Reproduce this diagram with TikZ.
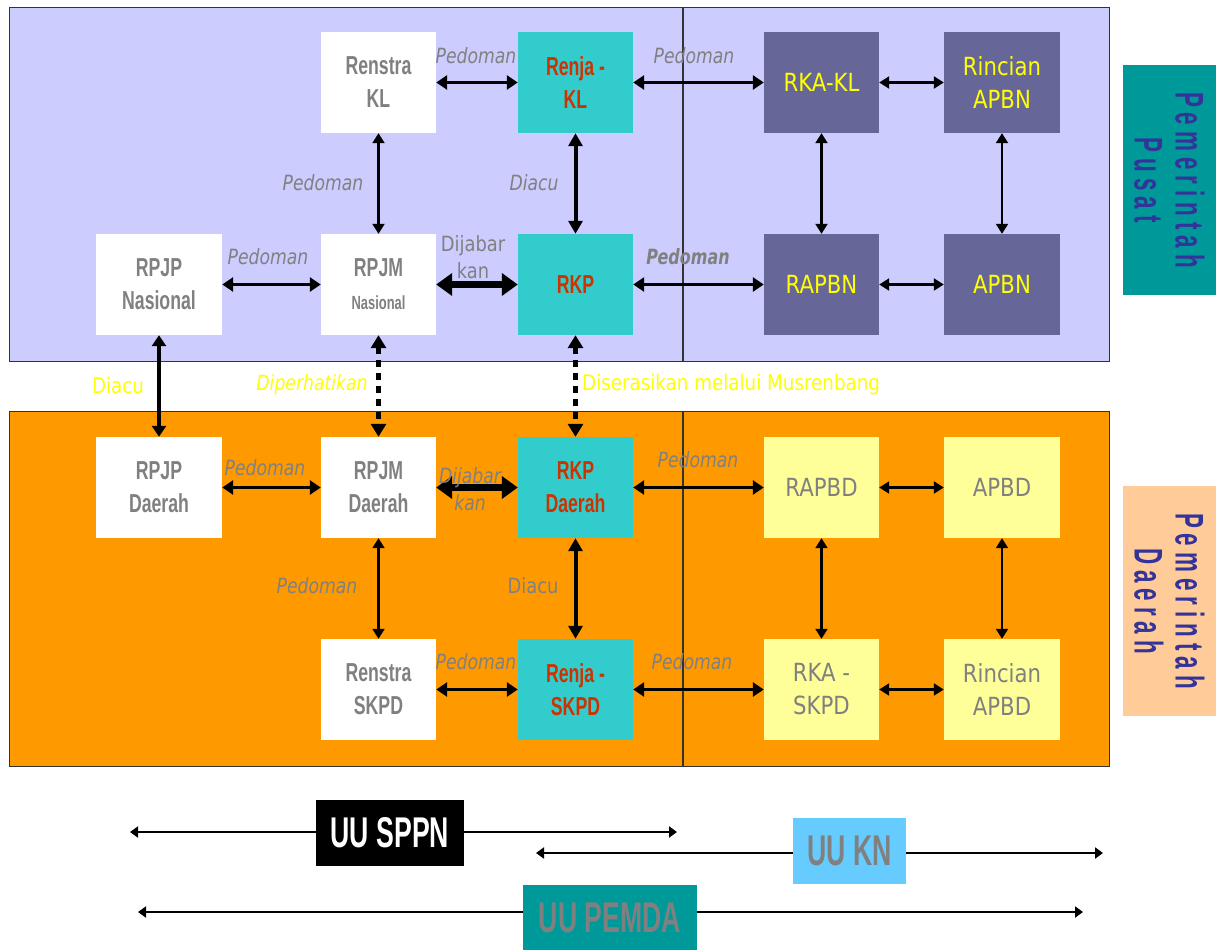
\documentclass[tikz,border=0pt]{standalone}
\usepackage{fontspec}
\setmainfont{DejaVu Sans}
\newfontfamily\nb{Liberation Sans Bold}[FakeStretch=0.68]
\newfontfamily\dvs{DejaVu Sans}[FakeStretch=0.85]
\newfontfamily\dvo{DejaVu Sans Oblique}[FakeStretch=0.82]
\newfontfamily\dvbo{DejaVu Sans Bold Oblique}[FakeStretch=0.76]
\newfontfamily\pem{Liberation Sans Bold}[FakeStretch=0.56,LetterSpace=15]
\newfontfamily\uu{Liberation Sans Bold}[FakeStretch=0.62]
\usetikzlibrary{arrows.meta}
\definecolor{pantop}{HTML}{CCCCFF}
\definecolor{panbot}{HTML}{FF9900}
\definecolor{tealbox}{HTML}{33CCCC}
\definecolor{purpbox}{HTML}{666699}
\definecolor{paleybox}{HTML}{FFFF99}
\definecolor{redtxt}{HTML}{CC3300}
\definecolor{graytxt}{HTML}{808080}
\definecolor{yeltxt}{HTML}{FFFF00}
\definecolor{sideone}{HTML}{009999}
\definecolor{sidetwo}{HTML}{FFCC99}
\definecolor{sidetxt}{HTML}{333399}
\definecolor{knbox}{HTML}{66CCFF}
\definecolor{edge}{HTML}{333333}
\tikzset{
  box/.style={inner sep=0pt, minimum width=115pt, minimum height=101pt, align=center},
  wb/.style={box, fill=white, text=graytxt, font=\nb\fontsize{26}{33}\selectfont},
  tb/.style={box, fill=tealbox, text=redtxt, font=\nb\fontsize{26}{33}\selectfont},
  pb/.style={box, fill=purpbox, text=yeltxt, font=\dvs\fontsize{25}{33}\selectfont},
  yb/.style={box, fill=paleybox, text=graytxt, font=\dvs\fontsize{25}{33}\selectfont},
  lab/.style={inner sep=0pt, text=graytxt, font=\dvo\fontsize{21}{27}\selectfont},
  labn/.style={inner sep=0pt, text=graytxt, font=\dvs\fontsize{21}{27}\selectfont, align=center},
  ylab/.style={inner sep=0pt, text=yeltxt, font=\dvs\fontsize{21.5}{27}\selectfont},
  side/.style={inner sep=0pt, rotate=-90, minimum width=230pt, minimum height=93pt, align=center, text=sidetxt, font=\pem\fontsize{40}{41}\selectfont},
  uubox/.style={inner sep=0pt, font=\uu\fontsize{43}{45}\selectfont},
  panel/.style={draw=edge, line width=1pt},
  divider/.style={draw=edge, line width=1.5pt},
  arm/.style={line width=3.2pt, {Triangle[length=11pt,width=14pt]}-{Triangle[length=11pt,width=14pt]}},
  ars/.style={line width=2.2pt, {Triangle[length=10pt,width=12pt]}-{Triangle[length=10pt,width=12pt]}},
  arv/.style={line width=4pt, {Triangle[length=13pt,width=14pt]}-{Triangle[length=13pt,width=14pt]}},
  arb/.style={line width=7pt, {Triangle[length=16pt,width=22pt]}-{Triangle[length=16pt,width=22pt]}},
  dotar/.style={line width=5pt, dash pattern=on 7pt off 6pt, {Triangle[length=13pt,width=15pt]}-{Triangle[length=13pt,width=15pt]}},
  uuar/.style={line width=2.5pt, {Triangle[length=8pt,width=11pt]}-{Triangle[length=8pt,width=11pt]}}
}
\begin{document}
\begin{tikzpicture}[x=1pt,y=-1pt]
\useasboundingbox (0,0) rectangle (1216,950);
% panels
\draw[panel, fill=pantop] (9,8) rectangle (1109,361);
\draw[panel, fill=panbot] (9,411) rectangle (1109,766);
\draw[divider] (683,8) -- (683,361);
\draw[divider] (683,411) -- (683,766);
% side labels
\node[side, fill=sideone] (pusat) at (1169.5,180) {Pemerintah\\Pusat};
\node[side, fill=sidetwo] (daerah) at (1169.5,601) {Pemerintah\\Daerah};
% top boxes
\node[wb] (renstrakl) at (378.5,82.5) {Renstra\\KL};
\node[tb] (renjakl) at (575.5,82.5) {Renja -\\KL};
\node[pb] (rkakl) at (821.5,82.5) {RKA-KL};
\node[pb, minimum width=116pt] (rincianapbn) at (1002,82.5) {Rincian\\APBN};
\node[wb, minimum width=126pt] (rpjpnas) at (159,284.5) {RPJP\\Nasional};
\node[wb] (rpjmnas) at (378.5,284.5) {RPJM\\{\fontsize{19}{24}\selectfont Nasional}};
\node[tb] (rkp) at (575.5,284.5) {RKP};
\node[pb] (rapbn) at (821.5,284.5) {RAPBN};
\node[pb, minimum width=116pt] (apbn) at (1002,284.5) {APBN};
% bottom boxes
\node[wb, minimum width=126pt] (rpjpd) at (159,487.5) {RPJP\\Daerah};
\node[wb] (rpjmd) at (378.5,487.5) {RPJM\\Daerah};
\node[tb] (rkpd) at (575.5,487.5) {RKP\\Daerah};
\node[yb] (rapbd) at (821.5,487.5) {RAPBD};
\node[yb, minimum width=116pt] (apbd) at (1002,487.5) {APBD};
\node[wb] (renstraskpd) at (378.5,689.5) {Renstra\\SKPD};
\node[tb] (renjaskpd) at (575.5,689.5) {Renja -\\SKPD};
\node[yb] (rkaskpd) at (821.5,689.5) {RKA -\\SKPD};
\node[yb, minimum width=116pt] (rincianapbd) at (1002,689.5) {Rincian\\APBD};
% top connectors
\draw[arm] (renstrakl) -- (renjakl);
\draw[arm] (renjakl) -- (rkakl);
\draw[ars] (rkakl) -- (rincianapbn);
\draw[ars] (renstrakl) -- (rpjmnas);
\draw[arv] (renjakl) -- (rkp);
\draw[ars] (rkakl) -- (rapbn);
\draw[ars] (rincianapbn) -- (apbn);
\draw[arm] (rpjpnas) -- (rpjmnas);
\draw[arb] (rpjmnas) -- (rkp);
\draw[arm] (rkp) -- (rapbn);
\draw[ars] (rapbn) -- (apbn);
% between panels
\draw[arm] (rpjpnas) -- (rpjpd);
\draw[dotar] (rpjmnas) -- (rpjmd);
\draw[dotar] (rkp) -- (rkpd);
% bottom connectors
\draw[arm] (rpjpd) -- (rpjmd);
\draw[arb] (rpjmd) -- (rkpd);
\draw[arm] (rkpd) -- (rapbd);
\draw[ars] (rapbd) -- (apbd);
\draw[ars] (rpjmd) -- (renstraskpd);
\draw[arv] (rkpd) -- (renjaskpd);
\draw[ars] (rapbd) -- (rkaskpd);
\draw[ars] (apbd) -- (rincianapbd);
\draw[arm] (renstraskpd) -- (renjaskpd);
\draw[arm] (renjaskpd) -- (rkaskpd);
\draw[ars] (rkaskpd) -- (rincianapbd);
% labels top
\node[lab] (l1) at (476,56) {Pedoman};
\node[lab] (l2) at (694,56) {Pedoman};
\node[lab] (l3) at (323,183) {Pedoman};
\node[lab] (l4) at (534,183) {Diacu};
\node[lab] (l5) at (268,257) {Pedoman};
\node[labn] (l6) at (473,257) {Dijabar\\kan};
\node[inner sep=0pt, text=graytxt, font=\dvbo\fontsize{21}{27}\selectfont] (l7) at (688,257) {Pedoman};
% labels between
\node[ylab] (l8) at (118,385) {Diacu};
\node[ylab, font=\dvo\fontsize{21}{27}\selectfont] (l9) at (312,385) {Diperhatikan};
\node[ylab, anchor=west] (l10) at (582,385) {Diserasikan melalui Musrenbang};
% labels bottom
\node[lab] (l11) at (265,468) {Pedoman};
\node[lab, align=center] (l12) at (470,489) {Dijabar\\kan};
\node[lab] (l13) at (698,460) {Pedoman};
\node[lab] (l14) at (317,586) {Pedoman};
\node[labn] (l15) at (533,586) {Diacu};
\node[lab] (l16) at (476,662) {Pedoman};
\node[lab] (l17) at (692,662) {Pedoman};
% bottom law bars
\coordinate (sppnl) at (130,832);
\coordinate (sppnr) at (677,832);
\coordinate (knl) at (536,853);
\coordinate (knr) at (1103,853);
\coordinate (pemdal) at (138,912);
\coordinate (pemdar) at (1083,912);
\draw[uuar] (sppnl) -- (sppnr);
\draw[uuar] (knl) -- (knr);
\draw[uuar] (pemdal) -- (pemdar);
\node[uubox, fill=black, text=white, minimum width=148pt, minimum height=66pt] (sppn) at (390,833) {UU SPPN};
\node[uubox, fill=knbox, text=graytxt, minimum width=113pt, minimum height=66pt] (kn) at (849.5,851) {UU KN};
\node[uubox, fill=sideone, text=graytxt, minimum width=174pt, minimum height=65pt] (pemda) at (610,917.5) {UU PEMDA};
\end{tikzpicture}
\end{document}
